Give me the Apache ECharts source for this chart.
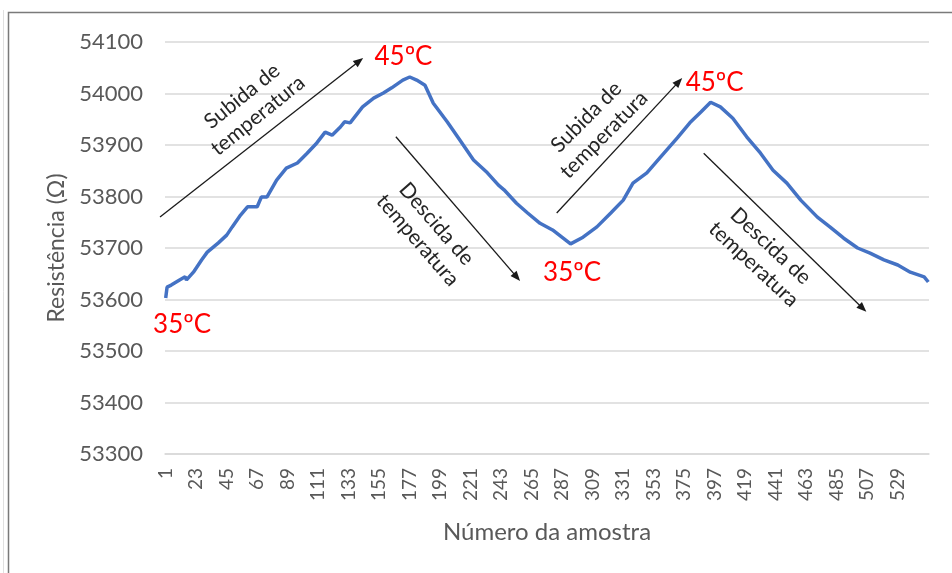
<!DOCTYPE html>
<html>
<head>
<meta charset="utf-8">
<script src="https://cdn.jsdelivr.net/npm/echarts@6/dist/echarts.min.js"></script>
<style>
html,body{margin:0;padding:0;background:#fff;}
#chart{width:952px;height:573px;}
</style>
</head>
<body>
<div id="chart"></div>
<script>
// ---- data ----
const sampleCount = 551;
const sampleNo = [1,2,5,11,15,16,21,27,31,39,45,49,55,60,67,70,74,81,88,96,103,110,116,121,127,130,134,143,151,158,164,172,177,182,188,194,204,213,223,233,241,245,254,262,271,280,293,302,312,322,331,338,348,358,370,379,387,394,401,410,420,430,439,449,459,471,480,490,500,509,519,529,538,548,551];
const resistance = [53603,53624,53628,53638,53644,53638,53653,53677,53692,53710,53725,53741,53764,53780,53780,53799,53799,53832,53855,53865,53884,53904,53925,53919,53935,53945,53943,53974,53991,54001,54011,54026,54032,54026,54016,53981,53945,53910,53871,53846,53822,53813,53787,53768,53748,53735,53708,53721,53741,53768,53793,53826,53846,53877,53914,53943,53964,53983,53974,53952,53916,53884,53851,53826,53793,53760,53741,53719,53700,53690,53677,53667,53653,53644,53634];
const yMin = 53300, yMax = 54100, yStep = 100;
const xLabelEvery = 22;
const xLabelLast = 529;
const xTitle = 'Número da amostra';
const yTitle = 'Resistência (Ω)';

// annotations in data coordinates: [sample, value]
const arrowStart = [[-3.1,53760],[167,53916],[283,53768],[389,53884]];
const arrowEnd   = [[143.4,54069],[256.6,53636],[373.5,54030],[506.3,53576]];
const tempText  = ['45ºC','45ºC','35ºC','35ºC'];
const tempPos   = [[172.5,54071],[396.9,54022],[12.8,53552],[294.1,53653]];
const phaseText = ['Subida de\ntemperatura','Descida de\ntemperatura','Subida de\ntemperatura','Descida de\ntemperatura'];
const phasePos  = [[61.8,53976],[189.5,53731],[310.7,53937],[431.2,53686]];
const phaseAngle = [39,-49,45,-43];

// ---- build ----
const categories = Array.from({length: sampleCount}, (_, i) => String(i + 1));
const seriesData = sampleNo.map((s, i) => [String(s), resistance[i]]);
const FONT = 'Lato, "Open Sans", sans-serif';

const chart = echarts.init(document.getElementById('chart'));
chart.setOption({
  animation: false,
  backgroundColor: '#fff',
  grid: {left: 165, right: 23, top: 42, bottom: 119},
  xAxis: {
    type: 'category',
    data: categories,
    boundaryGap: true,
    name: xTitle,
    nameLocation: 'middle',
    nameGap: 66,
    nameTextStyle: {fontFamily: FONT, fontSize: 24, color: '#595959'},
    axisLine: {show: true, lineStyle: {color: '#d9d9d9', width: 1.5}},
    axisTick: {show: false},
    axisLabel: {
      interval: function (idx) { return idx % xLabelEvery === 0 && idx + 1 <= xLabelLast; },
      rotate: 90, margin: 14, fontFamily: FONT, fontSize: 19, color: '#595959'
    },
    splitLine: {show: false}
  },
  yAxis: {
    type: 'value',
    min: yMin, max: yMax, interval: yStep,
    name: yTitle,
    nameLocation: 'middle',
    nameGap: 92,
    nameTextStyle: {fontFamily: FONT, fontSize: 23, color: '#595959'},
    axisLine: {show: false},
    axisTick: {show: false},
    axisLabel: {margin: 22, fontFamily: FONT, fontSize: 22, color: '#595959', formatter: function (v) { return String(v); }},
    splitLine: {lineStyle: {color: '#d9d9d9', width: 1.5}}
  },
  series: [{
    type: 'line',
    data: seriesData,
    showSymbol: false,
    symbol: 'none',
    lineStyle: {color: '#4472C4', width: 3.5},
    itemStyle: {color: '#4472C4'}
  }]
});

// pixel helpers through library scales
const x1 = chart.convertToPixel({xAxisIndex: 0}, '1');
const xN = chart.convertToPixel({xAxisIndex: 0}, String(sampleCount));
function px(s, v) {
  const x = x1 + (s - 1) * (xN - x1) / (sampleCount - 1);
  const y = chart.convertToPixel({yAxisIndex: 0}, v);
  return [x, y];
}

const graphics = [];
// outer frame
graphics.push({type: 'rect', shape: {x: 8.5, y: 12.5, width: 1000, height: 700}, style: {fill: 'none', stroke: '#7a7a7a', lineWidth: 1.5}, z: 100, silent: true});
graphics.push({type: 'line', shape: {x1: 3.5, y1: 10, x2: 3.5, y2: 573}, style: {stroke: '#e0e0e0', lineWidth: 1}, silent: true});

for (let i = 0; i < arrowStart.length; i++) {
  const a = px(arrowStart[i][0], arrowStart[i][1]);
  const b = px(arrowEnd[i][0], arrowEnd[i][1]);
  const dx = b[0] - a[0], dy = b[1] - a[1];
  const len = Math.hypot(dx, dy);
  const ux = dx / len, uy = dy / len;
  const hl = 10, hw = 4;
  const bx = b[0] - ux * hl, by = b[1] - uy * hl;
  graphics.push({type: 'line', shape: {x1: a[0], y1: a[1], x2: bx + ux * 2, y2: by + uy * 2}, style: {stroke: '#1a1a1a', lineWidth: 1.3}, silent: true, z: 50});
  graphics.push({type: 'polygon', shape: {points: [[b[0], b[1]], [bx - uy * hw, by + ux * hw], [bx + uy * hw, by - ux * hw]]}, style: {fill: '#1a1a1a'}, silent: true, z: 50});
}
for (let i = 0; i < tempText.length; i++) {
  const p = px(tempPos[i][0], tempPos[i][1]);
  graphics.push({type: 'text', x: p[0], y: p[1], style: {text: tempText[i], fill: '#ff0000', fontFamily: FONT, fontSize: 26, align: 'center', verticalAlign: 'middle'}, silent: true, z: 60});
}
for (let i = 0; i < phaseText.length; i++) {
  const p = px(phasePos[i][0], phasePos[i][1]);
  graphics.push({type: 'text', x: p[0], y: p[1], rotation: phaseAngle[i] * Math.PI / 180, style: {text: phaseText[i], fill: '#262626', fontFamily: FONT, fontSize: 21, lineHeight: 25, align: 'center', verticalAlign: 'middle'}, silent: true, z: 60});
}
chart.setOption({graphic: graphics});
</script>
</body>
</html>
